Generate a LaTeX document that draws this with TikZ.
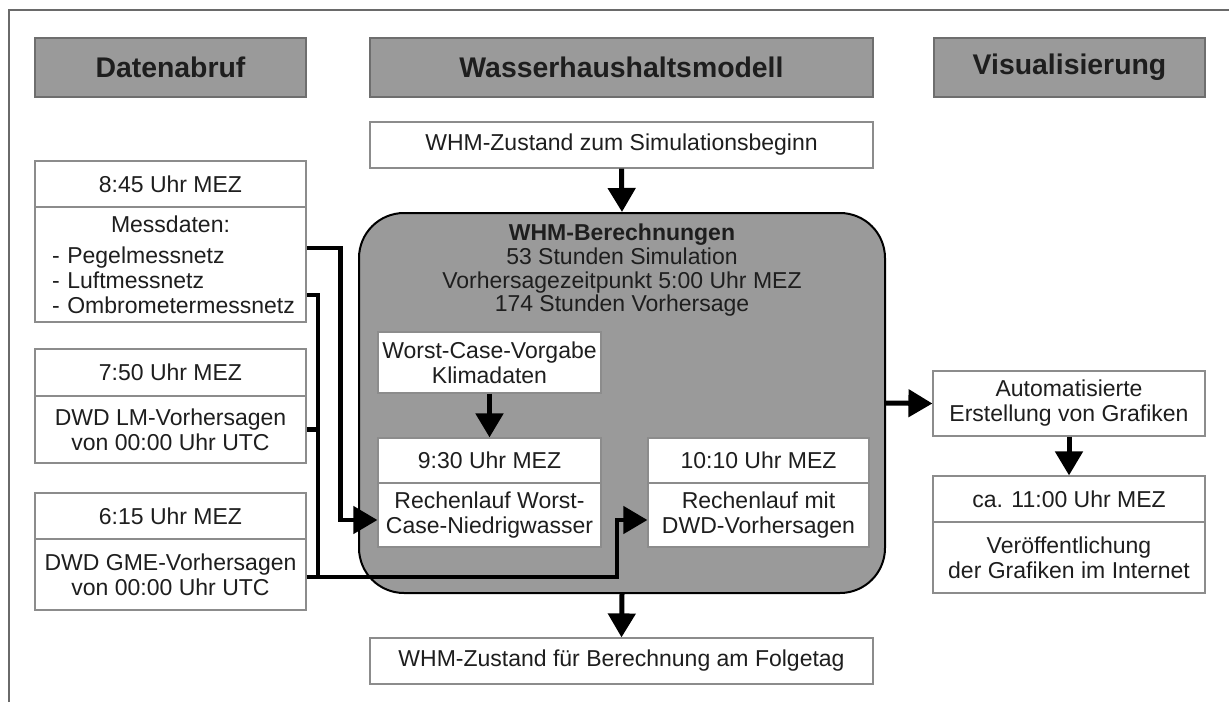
\documentclass[tikz,border=0pt]{standalone}
\usepackage{fontspec}
\setmainfont{Liberation Sans}
\usetikzlibrary{arrows.meta,calc}
\definecolor{hdfill}{HTML}{9A9A9A}
\definecolor{hdline}{HTML}{6E6E6E}
\definecolor{boxline}{HTML}{8C8C8C}
\definecolor{txtcol}{HTML}{1E1E1E}
\definecolor{framecol}{HTML}{6A6A6A}
\begin{document}
\begin{tikzpicture}[x=1pt,y=-1pt,
  hd/.style={draw=hdline, fill=hdfill, line width=1.5pt, inner sep=0pt, text=txtcol,
    font=\fontsize{28.4}{30}\selectfont\bfseries},
  wbox/.style={draw=boxline, fill=white, line width=1.2pt, inner sep=0pt, align=center,
    text=txtcol, font=\fontsize{23}{25}\selectfont},
  mainbox/.style={draw=black, fill=hdfill, line width=2pt, rounded corners=45pt, inner sep=0pt},
  txt/.style={inner sep=0pt, align=center, text=txtcol, font=\fontsize{23}{23.7}\selectfont},
  tip/.style={-{Triangle[length=24pt 0 0,width=27pt 0 0]}},
  conn/.style={line width=5pt, tip},
  plain/.style={line width=4.5pt}
]
\useasboundingbox (0,0) rectangle (1229,702);
\draw[framecol, line width=1.5pt] (9,702) -- (9,10) -- (1229,10);

% headers
\node[hd, minimum width=271pt, minimum height=59pt] (hd1) at (170.5,67.5) {Datenabruf};
\node[hd, minimum width=503pt, minimum height=59pt] (hd2) at (621.5,67.5) {Wasserhaushaltsmodell};
\node[hd, minimum width=271pt, minimum height=59pt] (hd3) at (1069.5,67.5) {Visualisierung};

% middle column
\node[wbox, minimum width=503pt, minimum height=46pt] (top) at (621.5,145) {WHM-Zustand zum Simulationsbeginn};
\node[mainbox, minimum width=526pt, minimum height=380pt] (main) at (622,403) {};
\node[txt, anchor=north] (maintxt) at (622,224) {\textbf{WHM-Berechnungen}\\53 Stunden Simulation\\Vorhersagezeitpunkt 5:00 Uhr MEZ\\174 Stunden Vorhersage};
\node[wbox, minimum width=223pt, minimum height=61pt] (wc) at (489.5,362.5) {Worst-Case-Vorgabe\\Klimadaten};
\node[wbox, minimum width=223pt, minimum height=45pt] (t930) at (489.5,460.5) {9:30 Uhr MEZ};
\node[wbox, minimum width=223pt, minimum height=64pt] (r930) at (489.5,515) {Rechenlauf Worst-\\Case-Niedrigwasser};
\node[wbox, minimum width=221pt, minimum height=45pt] (t1010) at (758.5,460.5) {10:10 Uhr MEZ};
\node[wbox, minimum width=221pt, minimum height=64pt] (r1010) at (758.5,515) {Rechenlauf mit\\DWD-Vorhersagen};
\node[wbox, minimum width=503pt, minimum height=46pt] (bottom) at (621.5,661) {WHM-Zustand für Berechnung am Folgetag};

% left column
\node[wbox, minimum width=271pt, minimum height=46pt] (t845) at (170.5,184) {8:45 Uhr MEZ};
\node[wbox, minimum width=271pt, minimum height=115pt, text width=237pt, align=left] (m845) at (170.5,264.5)
  {\makebox[\linewidth][c]{Messdaten:}\\[6pt]\mbox{- Pegelmessnetz}\\\mbox{- Luftmessnetz}\\\mbox{- Ombrometermessnetz}};
\node[wbox, minimum width=271pt, minimum height=47pt] (t750) at (170.5,372.5) {7:50 Uhr MEZ};
\node[wbox, minimum width=271pt, minimum height=67pt] (m750) at (170.5,429.5) {DWD LM-Vorhersagen\\von 00:00 Uhr UTC};
\node[wbox, minimum width=271pt, minimum height=46pt] (t615) at (170.5,516) {6:15 Uhr MEZ};
\node[wbox, minimum width=271pt, minimum height=71pt] (m615) at (170.5,574.5) {DWD GME-Vorhersagen\\von 00:00 Uhr UTC};

% right column
\node[wbox, minimum width=272pt, minimum height=65pt] (auto) at (1069,403.5) {Automatisierte\\Erstellung von Grafiken};
\node[wbox, minimum width=272pt, minimum height=46pt] (t11) at (1069,499) {ca. 11:00 Uhr MEZ};
\node[wbox, minimum width=272pt, minimum height=71pt] (m11) at (1069,557.5) {Veröffentlichung\\der Grafiken im Internet};

% connectors
\draw[conn] (top.south) -- (main.north);
\draw[conn] (wc.south) -- (t930.north);
\draw[conn] (main.south) -- (bottom.north);
\draw[conn] (main.east) -- (auto.west);
\draw[conn] (auto.south) -- (t11.north);

\coordinate (jx) at (318,577);
\coordinate (kx) at (617,577);
\draw[plain, tip] ([yshift=16.5pt]m845.east) -- ++(34,0) |- ([yshift=-5pt]r930.west);
\draw[plain, tip] ([yshift=-30.5pt]m845.east) -| (jx) -- (kx) |- ([yshift=-5pt]r1010.west);
\draw[plain] (m750.east) -- (m750.east -| jx);
\draw[plain] (m615.east |- jx) -- (jx);
\end{tikzpicture}
\end{document}
